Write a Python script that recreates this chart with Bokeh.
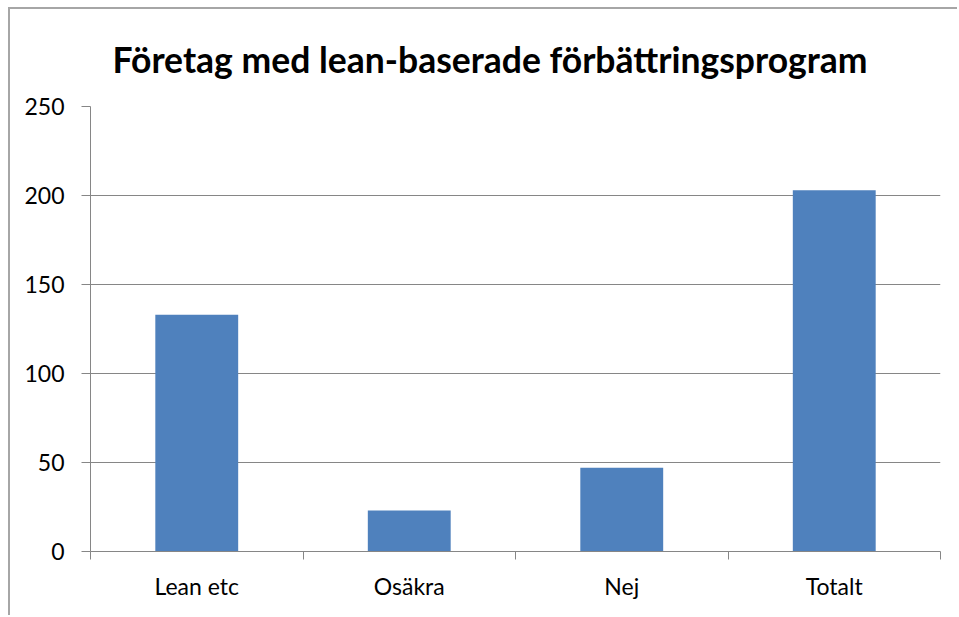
from bokeh.plotting import figure
from bokeh.models import FixedTicker, ColumnDataSource, Range1d
from bokeh.embed import file_html
from bokeh.resources import INLINE

title_text = "Företag med lean-baserade förbättringsprogram"
categories = ["Lean etc", "Osäkra", "Nej", "Totalt"]
values = [133, 23, 47, 203]
y_ticks = [0, 50, 100, 150, 200, 250]

x = [i + 0.5 for i in range(len(categories))]
bounds = list(range(len(categories) + 1))
src = ColumnDataSource(dict(x=x, top=values, cat=categories))

p = figure(width=949, height=608, output_backend="svg", toolbar_location=None,
           x_range=Range1d(0, len(categories)), y_range=Range1d(0, y_ticks[-1]),
           min_border_left=80, min_border_right=19, min_border_top=97,
           min_border_bottom=66)
p.styles = {"border-top": "2px solid #a6a6a6", "border-left": "2px solid #a6a6a6",
            "margin-left": "8px", "margin-top": "7px"}

p.title.text = title_text
p.title.align = "left"
p.title.offset = 22
p.title.text_font = "Lato"
p.title.text_font_style = "bold"
p.title.text_font_size = "35.5px"
p.title.text_color = "#000000"
p.title.standoff = 51

p.vbar(x="x", top="top", width=0.39, source=src, fill_color="#4f81bd", line_color=None)

axis_col = "#868686"
p.outline_line_color = None
p.xgrid.visible = False
p.ygrid.grid_line_color = axis_col

ya = p.yaxis[0]
ya.ticker = FixedTicker(ticks=y_ticks)
ya.axis_line_color = axis_col
ya.major_tick_line_color = axis_col
ya.major_tick_out = 9
ya.major_tick_in = 0
ya.minor_tick_out = 0
ya.minor_tick_in = 0
ya.major_label_text_font = "Lato"
ya.major_label_text_font_size = "23px"
ya.major_label_text_color = "#000000"
ya.major_label_standoff = 17

xa = p.xaxis[0]
xa.ticker = FixedTicker(ticks=x, minor_ticks=bounds)
xa.major_label_overrides = {xi: c for xi, c in zip(x, categories)}
xa.axis_line_color = axis_col
xa.major_tick_out = 0
xa.major_tick_in = 0
xa.minor_tick_out = 8
xa.minor_tick_in = 0
xa.minor_tick_line_color = axis_col
xa.major_label_text_font = "Lato"
xa.major_label_text_font_size = "23px"
xa.major_label_text_color = "#000000"
xa.major_label_standoff = 12

open("out.html", "w").write(file_html(p, INLINE))
